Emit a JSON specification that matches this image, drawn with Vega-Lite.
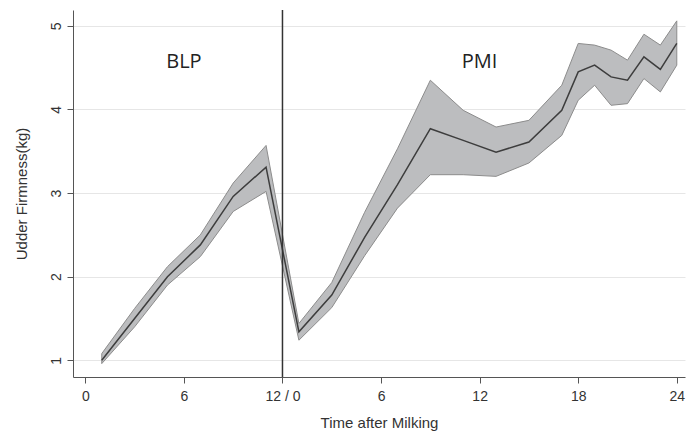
{
  "$schema": "https://vega.github.io/schema/vega-lite/v6.json",
  "autosize": {"type": "none"},
  "width": 612,
  "height": 367,
  "padding": {"left": 73, "top": 10, "right": 10, "bottom": 60},
  "background": "white",
  "config": {
    "view": {"stroke": null},
    "font": "Liberation Sans",
    "axis": {
      "labelFont": "Liberation Sans",
      "titleFont": "Liberation Sans",
      "labelColor": "#333333",
      "titleColor": "#333333",
      "domainColor": "#555555",
      "tickColor": "#555555",
      "labelFontSize": 14,
      "titleFontSize": 15,
      "titleFontWeight": "normal"
    }
  },
  "datasets": {
    "series": [
      {"x": 1, "mean": 1.00, "lo": 0.96, "hi": 1.08},
      {"x": 3, "mean": 1.50, "lo": 1.40, "hi": 1.62},
      {"x": 5, "mean": 2.00, "lo": 1.90, "hi": 2.12},
      {"x": 7, "mean": 2.38, "lo": 2.24, "hi": 2.50},
      {"x": 9, "mean": 2.96, "lo": 2.78, "hi": 3.12},
      {"x": 11, "mean": 3.31, "lo": 3.02, "hi": 3.57},
      {"x": 13, "mean": 1.34, "lo": 1.24, "hi": 1.44},
      {"x": 15, "mean": 1.78, "lo": 1.63, "hi": 1.93},
      {"x": 17, "mean": 2.47, "lo": 2.25, "hi": 2.77},
      {"x": 19, "mean": 3.10, "lo": 2.82, "hi": 3.53},
      {"x": 21, "mean": 3.77, "lo": 3.22, "hi": 4.35},
      {"x": 23, "mean": 3.63, "lo": 3.22, "hi": 3.99},
      {"x": 25, "mean": 3.49, "lo": 3.20, "hi": 3.79},
      {"x": 27, "mean": 3.61, "lo": 3.36, "hi": 3.87},
      {"x": 29, "mean": 3.99, "lo": 3.69, "hi": 4.29},
      {"x": 30, "mean": 4.45, "lo": 4.11, "hi": 4.79},
      {"x": 31, "mean": 4.53, "lo": 4.29, "hi": 4.77},
      {"x": 32, "mean": 4.39, "lo": 4.05, "hi": 4.71},
      {"x": 33, "mean": 4.35, "lo": 4.07, "hi": 4.59},
      {"x": 34, "mean": 4.63, "lo": 4.37, "hi": 4.90},
      {"x": 35, "mean": 4.48, "lo": 4.21, "hi": 4.77},
      {"x": 36, "mean": 4.79, "lo": 4.53, "hi": 5.06}
    ],
    "labels": [
      {"x": 6, "y": 4.57, "label": "BLP"},
      {"x": 24, "y": 4.57, "label": "PMI"}
    ],
    "divider": [{"x": 12}]
  },
  "layer": [
    {
      "data": {"name": "series"},
      "mark": {"type": "area", "fill": "#bcbdbf", "stroke": "#8c8c8c", "strokeWidth": 1, "opacity": 1},
      "encoding": {
        "x": {
          "field": "x", "type": "quantitative",
          "scale": {"domain": [-0.75, 36.5], "nice": false, "zero": false},
          "axis": {
            "title": "Time after Milking",
            "values": [0, 6, 12, 18, 24, 30, 36],
            "labelExpr": "datum.value == 12 ? '12 / 0' : (datum.value > 12 ? format(datum.value - 12, 'd') : format(datum.value, 'd'))",
            "grid": false,
            "tickSize": 6,
            "labelPadding": 6,
            "titlePadding": 12
          }
        },
        "y": {
          "field": "lo", "type": "quantitative",
          "scale": {"domain": [0.8, 5.19], "nice": false, "zero": false},
          "axis": {
            "title": "Udder Firmness(kg)",
            "values": [1, 2, 3, 4, 5],
            "format": "d",
            "labelAngle": -90,
            "labelAlign": "center",
            "labelBaseline": "bottom",
            "labelPadding": 4,
            "tickSize": 6,
            "grid": true,
            "gridColor": "#e6e6e6",
            "gridWidth": 1,
            "titlePadding": 20
          }
        },
        "y2": {"field": "hi"}
      }
    },
    {
      "data": {"name": "series"},
      "mark": {"type": "line", "color": "#3d3d3d", "strokeWidth": 1.5},
      "encoding": {
        "x": {"field": "x", "type": "quantitative"},
        "y": {"field": "mean", "type": "quantitative"}
      }
    },
    {
      "data": {"name": "divider"},
      "mark": {"type": "rule", "color": "#333333", "strokeWidth": 1.5},
      "encoding": {
        "x": {"field": "x", "type": "quantitative"}
      }
    },
    {
      "data": {"name": "labels"},
      "mark": {"type": "text", "font": "Open Sans", "fontSize": 20, "color": "#222222", "align": "center", "baseline": "middle"},
      "encoding": {
        "x": {"field": "x", "type": "quantitative"},
        "y": {"field": "y", "type": "quantitative"},
        "text": {"field": "label"}
      }
    }
  ]
}
